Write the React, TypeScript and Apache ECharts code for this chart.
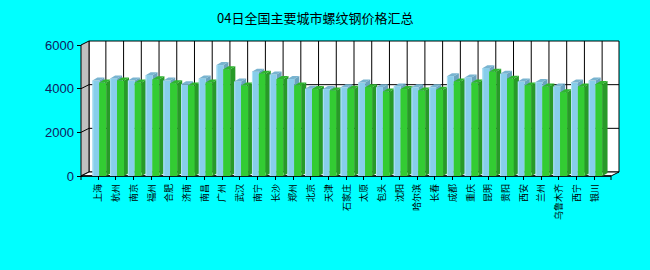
import React, { useEffect, useRef } from "react";
import * as echarts from "echarts";

const chartTitle = "04日全国主要城市螺纹钢价格汇总";
const cities = ["上海", "杭州", "南京", "福州", "合肥", "济南", "南昌", "广州", "武汉", "南宁", "长沙", "郑州", "北京", "天津", "石家庄", "太原", "包头", "沈阳", "哈尔滨", "长春", "成都", "重庆", "昆明", "贵阳", "西安", "兰州", "乌鲁木齐", "西宁", "银川"];
const seriesA = [4370, 4470, 4370, 4620, 4370, 4200, 4470, 5080, 4330, 4780, 4650, 4440, 4000, 3980, 4060, 4280, 4070, 4100, 4060, 4060, 4570, 4510, 4940, 4680, 4330, 4300, 4100, 4280, 4370];
const seriesB = [4280, 4370, 4280, 4430, 4250, 4140, 4280, 4890, 4140, 4680, 4440, 4150, 3980, 3920, 4000, 4070, 3870, 3980, 3920, 3950, 4330, 4280, 4780, 4450, 4150, 4100, 3840, 4100, 4210];
const yTicks = [0, 2000, 4000, 6000];

// wall depth and bar depth (pixels)
const WDX = 8, WDY = -4;
const BDX = 5, BDY = -3;
const BX = 1.5;
const PAD = 8;

const colA = { front: "#87CEEB", top: "#78b4d0", side: "#6aa3bf", edge: "#b0e2f4" };
const colB = { front: "#33CC33", top: "#2fb52f", side: "#289a28", edge: "#33CC33" };

export default function App() {
  const ref = useRef<HTMLDivElement>(null);
  useEffect(() => {
    document.body.style.margin = "0";
    document.body.style.background = "#00FFFF";
    const chart = echarts.init(ref.current!, null, { renderer: "svg" });
    const yMax = yTicks[yTicks.length - 1];
    const n = cities.length;

    const decor = (params: any, api: any) => {
      const c0 = api.coord([0, 0]);
      const cL = api.coord([n - 1, 0]);
      const step = api.size([1, 0])[0];
      const yBot = c0[1];
      const yTop = api.coord([0, yMax])[1];
      const L = c0[0] - step / 2 - PAD;
      const R = cL[0] + step / 2 + PAD;
      const children: any[] = [];
      children.push({ type: "rect", shape: { x: L + WDX, y: yTop + WDY, width: R - L, height: yBot - yTop }, style: { fill: "#ffffff", stroke: "#000", lineWidth: 1 } });
      children.push({ type: "polygon", shape: { points: [[L, yTop], [L + WDX, yTop + WDY], [L + WDX, yBot + WDY], [L, yBot]] }, style: { fill: "#C0C0C0", stroke: "#000", lineWidth: 1 } });
      children.push({ type: "polygon", shape: { points: [[L, yBot], [R, yBot], [R + WDX, yBot + WDY], [L + WDX, yBot + WDY]] }, style: { fill: "#ffffff", stroke: "#000", lineWidth: 1 } });
      yTicks.forEach((v) => {
        if (v === 0 || v === yMax) return;
        const y = api.coord([0, v])[1] + WDY;
        children.push({ type: "line", shape: { x1: L + WDX, y1: y, x2: R + WDX, y2: y }, style: { stroke: "#000", lineWidth: 1 } });
        children.push({ type: "line", shape: { x1: L, y1: y - WDY, x2: L + WDX, y2: y }, style: { stroke: "#000", lineWidth: 1 } });
      });
      for (let i = 0; i < n; i++) {
        const x = api.coord([i, 0])[0] + WDX;
        children.push({ type: "line", shape: { x1: x, y1: yTop + WDY, x2: x, y2: yBot + WDY }, style: { stroke: "#000", lineWidth: 1 } });
      }
      children.push({ type: "line", shape: { x1: L, y1: yBot, x2: R, y2: yBot }, style: { stroke: "#000", lineWidth: 1.5 } });
      children.push({ type: "line", shape: { x1: L, y1: yBot, x2: L, y2: yBot + 4 }, style: { stroke: "#000", lineWidth: 1 } });
      children.push({ type: "line", shape: { x1: R, y1: yBot, x2: R, y2: yBot + 4 }, style: { stroke: "#000", lineWidth: 1 } });
      return { type: "group", children };
    };

    const bars = (params: any, api: any) => {
      const i = api.value(0);
      const base = api.coord([i, 0]);
      const step = api.size([1, 0])[0];
      const w = step * 0.39;
      const cx = base[0] + BX;
      const y0 = base[1];
      const make = (x: number, v: number, c: any) => {
        const top = api.coord([i, v])[1];
        return [
          { type: "polygon", shape: { points: [[x + w, top], [x + w + BDX, top + BDY], [x + w + BDX, y0 + BDY], [x + w, y0]] }, style: { fill: c.side } },
          { type: "rect", shape: { x, y: top, width: w, height: y0 - top }, style: { fill: c.front } },
          { type: "rect", shape: { x, y: top, width: 1, height: y0 - top }, style: { fill: c.edge } },
          { type: "polygon", shape: { points: [[x, top], [x + BDX, top + BDY], [x + w + BDX, top + BDY], [x + w, top]] }, style: { fill: c.top } },
        ];
      };
      return {
        type: "group",
        children: [...make(cx - w, api.value(1), colA), ...make(cx, api.value(2), colB)],
      };
    };

    chart.setOption({
      animation: false,
      backgroundColor: "#00FFFF",
      title: {
        text: chartTitle,
        left: 212,
        top: 6,
        textStyle: { fontSize: 13, fontWeight: "normal", color: "#000", fontFamily: "Noto Sans CJK SC" },
      },
      grid: { left: 89, right: 47, top: 45, bottom: 94 },
      xAxis: {
        type: "category",
        data: cities,
        axisLine: { show: false },
        axisTick: { show: true, alignWithLabel: true, length: 4, lineStyle: { color: "#000" } },
        axisLabel: { rotate: 90, interval: 0, fontSize: 9, margin: 8, color: "#000", fontFamily: "Noto Sans CJK SC" },
        splitLine: { show: false },
      },
      yAxis: {
        type: "value",
        min: 0,
        max: yMax,
        interval: 2000,
        offset: 7,
        axisLine: { show: true, lineStyle: { color: "#000" } },
        axisTick: { show: true, length: 5, lineStyle: { color: "#000" } },
        axisLabel: { fontSize: 13, margin: 8, color: "#102060", fontFamily: "Liberation Sans", formatter: (v: number) => String(v) },
        splitLine: { show: false },
      },
      series: [
        { type: "custom", renderItem: decor, data: [[0, 0]], silent: true, z: 1 },
        {
          type: "custom",
          renderItem: bars,
          data: cities.map((c, i) => [i, seriesA[i], seriesB[i]]),
          encode: { x: 0, y: 1 },
          z: 2,
        },
      ],
    });
    return () => chart.dispose();
  }, []);
  return <div ref={ref} style={{ width: 650, height: 270 }} />;
}
